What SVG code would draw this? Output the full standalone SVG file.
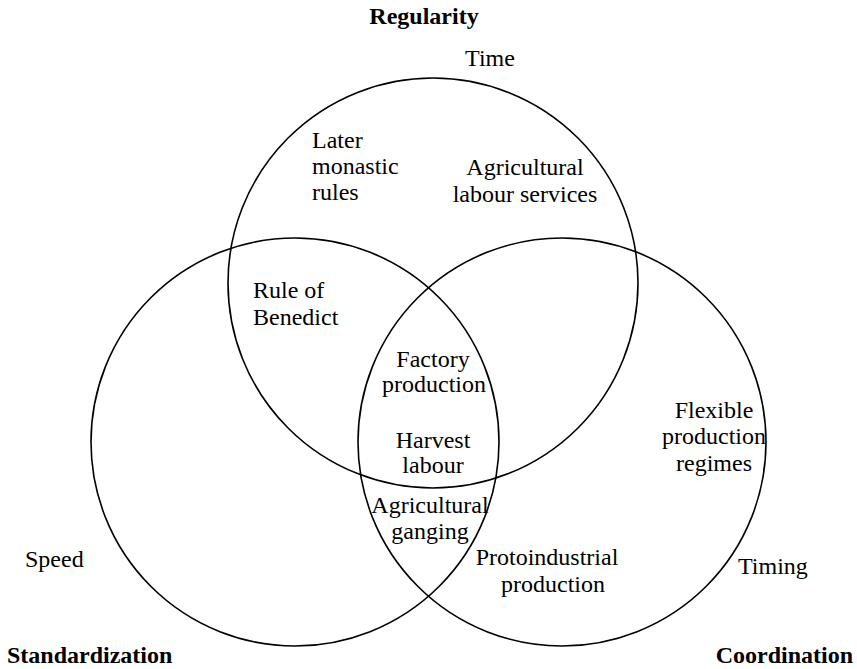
<svg xmlns="http://www.w3.org/2000/svg" width="857" height="669" viewBox="0 0 857 669">
<style>
.c{fill:none;stroke:#000;stroke-width:1.6}
text{font-family:"Liberation Serif","Times New Roman",serif;font-size:24px;fill:#000}
.b{font-weight:bold}
.m{text-anchor:middle}
</style>
<rect width="857" height="669" fill="#fff"/>
<g id="circles">
<circle id="regularity-circle" class="c" cx="433" cy="283" r="205"/>
<circle id="standardization-circle" class="c" cx="295" cy="442" r="204"/>
<circle id="coordination-circle" class="c" cx="562" cy="442" r="204"/>
</g>
<g id="labels">
<text class="b m" x="424" y="24">Regularity</text>
<text class="m" x="490" y="66">Time</text>
<text x="7" y="663" class="b">Standardization</text>
<text x="853" y="663" class="b" text-anchor="end">Coordination</text>
<text x="25" y="567">Speed</text>
<text x="738" y="574">Timing</text>
</g>
<g id="regions">
<text x="312" y="148">Later</text>
<text x="312" y="174">monastic</text>
<text x="312" y="200">rules</text>
<text class="m" x="525" y="175">Agricultural</text>
<text class="m" x="525" y="202">labour services</text>
<text x="253" y="298">Rule of</text>
<text x="253" y="325">Benedict</text>
<text class="m" x="433" y="367">Factory</text>
<text class="m" x="434" y="392">production</text>
<text class="m" x="433" y="448">Harvest</text>
<text class="m" x="433" y="473">labour</text>
<text class="m" x="430" y="513">Agricultural</text>
<text class="m" x="430" y="539">ganging</text>
<text class="m" x="714" y="418">Flexible</text>
<text class="m" x="714" y="444">production</text>
<text class="m" x="714" y="471">regimes</text>
<text class="m" x="547" y="565">Protoindustrial</text>
<text class="m" x="553" y="592">production</text>
</g>
</svg>
